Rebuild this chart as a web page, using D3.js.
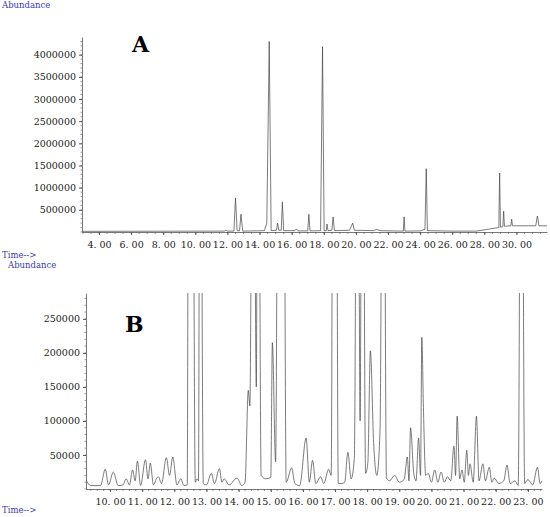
<!DOCTYPE html>
<html><head><meta charset="utf-8">
<script src="https://cdn.jsdelivr.net/npm/d3@7"></script>
<style>body{margin:0;background:#fff}svg text{font-family:"DejaVu Serif","Liberation Serif",serif}</style>
</head><body><svg id="c" width="550" height="517"></svg>
<script>
const ticksA = [4,6,8,10,12,14,16,18,20,22,24,26,28,30];
const yTicksA = [500000,1000000,1500000,2000000,2500000,3000000,3500000,4000000];
const traceA = [[2.95,15000],[8,18000],[11.8,20000],[11.9,40000],[12.0,20000],[12.4,20000],[12.5,770000],[12.6,30000],[12.75,25000],[12.84,400000],[12.95,20000],[14.3,30000],[14.45,200000],[14.6,4300000],[14.72,30000],[15.05,40000],[15.12,200000],[15.2,40000],[15.35,40000],[15.42,680000],[15.5,30000],[16.2,30000],[16.3,70000],[16.4,25000],[17.0,25000],[17.07,400000],[17.14,25000],[17.8,30000],[17.92,4180000],[18.02,30000],[18.15,30000],[18.2,180000],[18.26,30000],[18.5,40000],[18.58,340000],[18.66,30000],[19.6,40000],[19.8,200000],[19.9,40000],[21.1,30000],[21.3,60000],[21.5,30000],[22.95,20000],[23.0,340000],[23.05,20000],[24.0,25000],[24.3,60000],[24.38,1430000],[24.45,30000],[26.0,20000],[27.5,20000],[28.9,100000],[28.95,1330000],[29.0,110000],[29.15,120000],[29.2,470000],[29.25,130000],[29.65,140000],[29.7,290000],[29.75,140000],[31.2,140000],[31.3,360000],[31.4,140000],[31.9,140000]];
const ticksB = [10,11,12,13,14,15,16,17,18,19,20,21,22,23];
const yTicksB = [50000,100000,150000,200000,250000];
const traceB = [[9.25,13000],[9.4,5000],[9.7,5000],[9.85,29000],[9.95,6000],[10.1,25000],[10.25,5000],[10.4,6000],[10.5,15000],[10.6,6000],[10.7,28000],[10.78,12000],[10.85,41000],[10.95,5000],[11.1,43000],[11.18,15000],[11.25,38000],[11.35,6000],[11.45,16000],[11.5,18000],[11.6,8000],[11.75,46000],[11.85,20000],[11.95,47000],[12.08,6000],[12.2,15000],[12.3,5000],[12.4,6000],[12.45,900000],[12.5,300000],[12.55,900000],[12.65,10000],[12.7,15000],[12.75,12000],[12.8,900000],[12.9,8000],[13.0,6000],[13.15,23000],[13.25,8000],[13.4,30000],[13.48,10000],[13.55,15000],[13.7,6000],[13.95,16000],[14.1,5000],[14.2,10000],[14.3,145000],[14.35,122000],[14.45,900000],[14.55,150000],[14.6,900000],[14.7,20000],[14.85,15000],[15.0,17000],[15.05,215000],[15.15,40000],[15.25,900000],[15.32,300000],[15.38,900000],[15.48,10000],[15.65,31000],[15.75,8000],[15.9,5000],[16.1,75000],[16.2,10000],[16.3,42000],[16.4,8000],[16.55,18000],[16.65,8000],[16.8,29000],[16.88,20000],[16.95,900000],[17.02,900000],[17.1,8000],[17.2,8000],[17.3,10000],[17.4,54000],[17.5,15000],[17.6,45000],[17.7,900000],[17.78,100000],[17.85,900000],[17.95,23000],[18.02,38000],[18.1,203000],[18.2,68000],[18.3,20000],[18.4,87000],[18.5,900000],[18.6,16000],[18.7,12000],[18.85,20000],[19.0,10000],[19.15,14000],[19.25,47000],[19.3,12000],[19.35,90000],[19.45,23000],[19.52,12000],[19.6,75000],[19.66,20000],[19.7,223000],[19.75,120000],[19.82,20000],[19.9,23000],[20.0,10000],[20.1,28000],[20.2,10000],[20.3,25000],[20.4,10000],[20.5,18000],[20.6,12000],[20.7,63000],[20.75,20000],[20.8,107000],[20.88,15000],[20.95,28000],[21.02,10000],[21.1,57000],[21.15,20000],[21.2,37000],[21.3,10000],[21.4,107000],[21.48,12000],[21.6,37000],[21.68,12000],[21.8,32000],[21.88,10000],[21.95,16000],[22.1,8000],[22.25,12000],[22.35,35000],[22.45,8000],[22.6,12000],[22.7,5000],[22.8,900000],[22.9,8000],[23.0,14000],[23.15,6000],[23.3,32000],[23.38,8000],[23.44,12000]];

const svg = d3.select("#c");
const blue = "#3b3bb0";
function fmt(v){ return v.toFixed(2).replace(".", ". "); }

function panel(o){
  const x = d3.scaleLinear().domain(o.xd).range([o.l,o.r]);
  const y = d3.scaleLinear().domain([0,o.ymax]).range([o.b,o.t]);
  const g = svg.append("g");
  g.append("clipPath").attr("id","cl"+o.id).append("rect").attr("x",o.l).attr("y",o.t).attr("width",o.r-o.l).attr("height",o.b-o.t);
  g.append("path").datum(o.data).attr("clip-path","url(#cl"+o.id+")")
   .attr("d", d3.line().x(d=>x(d[0])).y(d=>y(d[1])).curve(o.curve))
   .attr("fill","none").attr("stroke","#444").attr("stroke-width",0.7);
  const xa = g.append("g").attr("transform",`translate(0,${o.b})`)
   .call(d3.axisBottom(x).tickValues(o.xt).tickFormat(fmt).tickSize(3).tickSizeOuter(0));
  const minor = d3.range(Math.ceil(o.xd[0]/o.minor)*o.minor, o.xd[1], o.minor);
  xa.selectAll(".mn").data(minor).join("line").attr("x1",d=>x(d)).attr("x2",d=>x(d)).attr("y1",0).attr("y2",2).attr("stroke","#555").attr("stroke-width",0.6);
  const ya = g.append("g").attr("transform",`translate(${o.l},0)`)
   .call(d3.axisLeft(y).tickValues(o.yt).tickFormat(d3.format("d")).tickSize(3).tickSizeOuter(0));
  ya.selectAll(".mn").data(d3.range(0,o.ymax,o.ymin)).join("line").attr("y1",d=>y(d)).attr("y2",d=>y(d)).attr("x1",0).attr("x2",-1.5).attr("stroke","#555").attr("stroke-width",0.6);
  [xa,ya].forEach(a=>{a.select(".domain").attr("stroke","#555").attr("stroke-width",0.8);
    a.selectAll(".tick line").attr("stroke","#555");
    a.selectAll("text").attr("font-family","DejaVu Serif").attr("font-size",9.5).attr("fill","#222");});
  xa.selectAll("text").attr("dy","1.05em");
  g.append("text").attr("x",o.lx).attr("y",o.ly).text(o.letter).attr("font-family","Liberation Serif").attr("font-weight","bold").attr("font-size",22);
  g.append("text").attr("x",o.ax).attr("y",o.ay).text("Abundance").attr("font-family","DejaVu Sans Mono").attr("font-size",8.5).attr("fill",blue);
  g.append("text").attr("x",2).attr("y",o.ty).text("Time-->").attr("font-family","DejaVu Sans Mono").attr("font-size",8.5).attr("fill",blue);
}
panel({id:"A",xd:[2.94,31.9],l:82,r:547,t:37,b:232,ymax:4400000,xt:ticksA,yt:yTicksA,minor:0.5,ymin:100000,data:traceA,curve:d3.curveLinear,letter:"A",lx:132,ly:52,ax:2,ay:8,ty:258});
panel({id:"B",xd:[9.25,23.44],l:86,r:542,t:293,b:489,ymax:288000,xt:ticksB,yt:yTicksB,minor:0.2,ymin:10000,data:traceB,curve:d3.curveMonotoneX,letter:"B",lx:125,ly:332,ax:8,ay:268,ty:513});
</script></body></html>
